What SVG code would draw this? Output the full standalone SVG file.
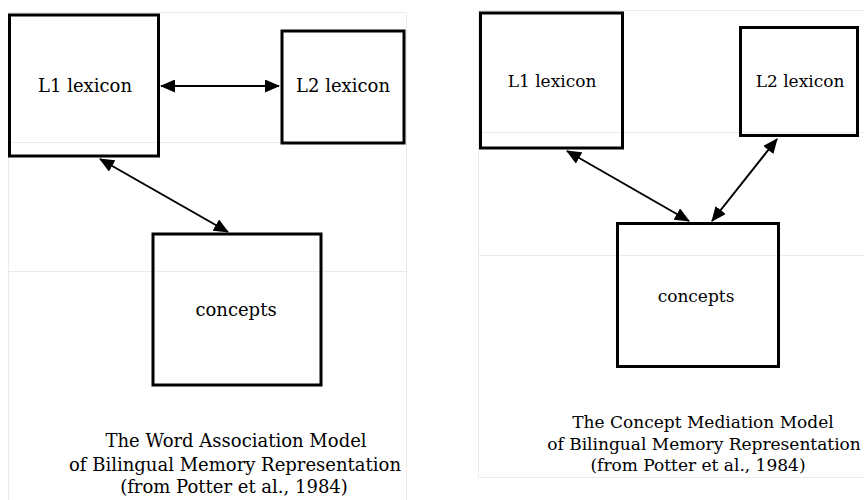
<svg xmlns="http://www.w3.org/2000/svg" width="864" height="500" viewBox="0 0 864 500">
<defs>
<style>
.bg{fill:#fff}
.grid{fill:none;stroke:#ebebeb;stroke-width:1}
.box{fill:none;stroke:#000;stroke-width:3}
.con{stroke:#000;stroke-width:2;fill:none;marker-start:url(#ah);marker-end:url(#ah)}
.t{font-family:"DejaVu Serif","Liberation Serif",serif;font-size:18px;fill:#000;text-anchor:middle}
.r{font-size:17px}
</style>
<marker id="ah" viewBox="0 0 15 13" refX="14" refY="6.5" markerWidth="15" markerHeight="13" markerUnits="userSpaceOnUse" orient="auto-start-reverse">
<path d="M0,0 L15,6.5 L0,13 z" fill="#000"/>
</marker>
</defs>
<rect class="bg" x="0" y="0" width="864" height="500"/>
<g id="panel-frames">
<path class="grid" d="M8.5,512 V12.5 H406.5 V512 M8.5,142.5 H406.5 M8.5,271.5 H406.5"/>
<path class="grid" d="M478.5,477.5 V10.5 H870 M478.5,477.5 H870 M478.5,132.5 H870 M478.5,255.5 H870"/>
</g>
<g id="connectors">
<line class="con" x1="161" y1="86" x2="279" y2="86"/>
<line class="con" x1="100" y1="159" x2="228" y2="232"/>
<line class="con" x1="567" y1="151" x2="689" y2="221"/>
<line class="con" x1="777" y1="139" x2="712" y2="221"/>
</g>
<g id="a-l1">
<rect class="box" x="9.5" y="15" width="149" height="141"/>
<text class="t" x="85" y="92">L1 lexicon</text>
</g>
<g id="a-l2">
<rect class="box" x="282" y="31" width="122" height="112"/>
<text class="t" x="343" y="92">L2 lexicon</text>
</g>
<g id="a-concepts">
<rect class="box" x="153" y="234" width="168" height="151"/>
<text class="t" x="236" y="316">concepts</text>
</g>
<g id="a-caption">
<text class="t" x="236" y="447">The Word Association Model</text>
<text class="t" x="235" y="471">of Bilingual Memory Representation</text>
<text class="t" x="234" y="493">(from Potter et al., 1984)</text>
</g>
<g id="b-l1">
<rect class="box" x="480.5" y="13" width="142" height="135"/>
<text class="t r" x="552" y="87">L1 lexicon</text>
</g>
<g id="b-l2">
<rect class="box" x="740.5" y="27.5" width="117" height="108"/>
<text class="t r" x="800" y="87">L2 lexicon</text>
</g>
<g id="b-concepts">
<rect class="box" x="617.5" y="223.5" width="161" height="143"/>
<text class="t r" x="696" y="302">concepts</text>
</g>
<g id="b-caption">
<text class="t r" x="703" y="428">The Concept Mediation Model</text>
<text class="t r" x="704" y="450">of Bilingual Memory Representation</text>
<text class="t r" x="698" y="471">(from Potter et al., 1984)</text>
</g>
</svg>
